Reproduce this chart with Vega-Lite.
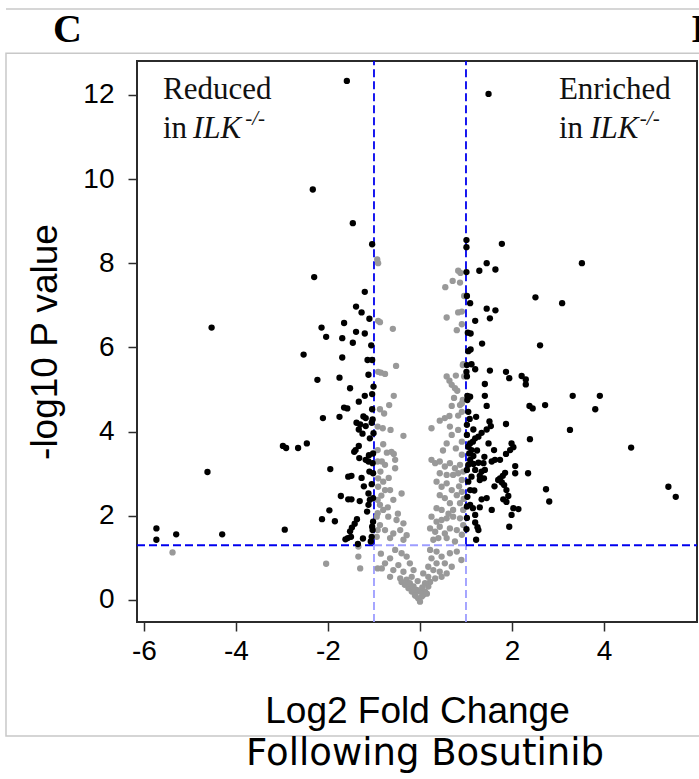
{
  "$schema": "https://vega.github.io/schema/vega-lite/v6.json",
  "width": 560,
  "height": 561,
  "autosize": {"type": "none"},
  "padding": {"left": 137, "top": 61, "right": 2, "bottom": 157},
  "background": "white",
  "title": {"text": "Following Bosutinib", "orient": "bottom", "anchor": "middle", "font": "DejaVu Sans", "fontSize": 37, "fontWeight": "normal", "color": "#000000", "offset": -1, "dx": 8},
  "datasets": {
    "panel": [{"x": -9.0, "x2": 7.0, "y": 12.99, "y2": -3.23}],
    "topline": [{"x": -9.0, "x2": 7.0, "y": 14.04}],
    "thresholds": [
      {"x": -1, "x2": -1, "y": 1.3, "y2": 12.803, "zone": "outer"},
      {"x": -1, "x2": -1, "y": -0.523, "y2": 1.3, "zone": "inner"},
      {"x": 1, "x2": 1, "y": 1.3, "y2": 12.803, "zone": "outer"},
      {"x": 1, "x2": 1, "y": -0.523, "y2": 1.3, "zone": "inner"},
      {"x": -6.152, "x2": -1, "y": 1.3, "y2": 1.3, "zone": "outer"},
      {"x": -1, "x2": 1, "y": 1.3, "y2": 1.3, "zone": "inner"},
      {"x": 1, "x2": 6.022, "y": 1.3, "y2": 1.3, "zone": "outer"}
    ],
    "normalText": [
      {"x": -5.587, "y": 11.9, "t": "Reduced"},
      {"x": -5.587, "y": 10.98, "t": "in"},
      {"x": 3.02, "y": 11.9, "t": "Enriched"},
      {"x": 3.02, "y": 10.98, "t": "in"}
    ],
    "italicText": [
      {"x": -4.935, "y": 10.98, "t": "ILK"},
      {"x": 3.70, "y": 10.98, "t": "ILK"}
    ],
    "supText": [
      {"x": -3.8, "y": 11.28, "t": "-/-"},
      {"x": 4.78, "y": 11.28, "t": "-/-"}
    ],
    "panelLabels": [
      {"x": -7.98, "y": 13.25, "t": "C"},
      {"x": 5.91, "y": 13.25, "t": "D"}
    ],
    "genes": [
      {"lfc": -0.93, "nlp": 8.09, "group": "ns"}, {"lfc": -0.91, "nlp": 8.0, "group": "ns"}, {"lfc": -0.91, "nlp": 6.63, "group": "ns"}, {"lfc": -0.87, "nlp": 6.6, "group": "ns"},
      {"lfc": -0.59, "nlp": 6.44, "group": "ns"}, {"lfc": -0.91, "nlp": 5.42, "group": "ns"}, {"lfc": -0.85, "nlp": 5.4, "group": "ns"}, {"lfc": -0.76, "nlp": 5.37, "group": "ns"},
      {"lfc": -0.52, "nlp": 5.56, "group": "ns"}, {"lfc": -0.57, "nlp": 4.85, "group": "ns"}, {"lfc": -0.87, "nlp": 4.53, "group": "ns"}, {"lfc": -0.78, "nlp": 4.43, "group": "ns"},
      {"lfc": -0.67, "nlp": 4.63, "group": "ns"}, {"lfc": -0.92, "nlp": 4.12, "group": "ns"}, {"lfc": -0.81, "nlp": 4.08, "group": "ns"}, {"lfc": -0.64, "nlp": 4.04, "group": "ns"},
      {"lfc": -0.36, "nlp": 3.9, "group": "ns"}, {"lfc": -0.92, "nlp": 3.56, "group": "ns"}, {"lfc": -0.72, "nlp": 3.5, "group": "ns"}, {"lfc": -0.62, "nlp": 3.52, "group": "ns"},
      {"lfc": -0.57, "nlp": 3.47, "group": "ns"}, {"lfc": -0.54, "nlp": 3.33, "group": "ns"}, {"lfc": -0.92, "nlp": 3.29, "group": "ns"}, {"lfc": -0.83, "nlp": 3.29, "group": "ns"},
      {"lfc": -0.76, "nlp": 3.21, "group": "ns"}, {"lfc": -0.54, "nlp": 3.13, "group": "ns"}, {"lfc": -0.91, "nlp": 2.89, "group": "ns"}, {"lfc": -0.8, "nlp": 2.81, "group": "ns"},
      {"lfc": -0.91, "nlp": 2.69, "group": "ns"}, {"lfc": -0.76, "nlp": 2.61, "group": "ns"}, {"lfc": -0.65, "nlp": 2.61, "group": "ns"}, {"lfc": -0.4, "nlp": 2.53, "group": "ns"},
      {"lfc": -0.58, "nlp": 2.38, "group": "ns"}, {"lfc": -0.92, "nlp": 2.38, "group": "ns"}, {"lfc": -0.87, "nlp": 2.26, "group": "ns"}, {"lfc": -0.8, "nlp": 2.14, "group": "ns"},
      {"lfc": -0.92, "nlp": 2.06, "group": "ns"}, {"lfc": -0.94, "nlp": 1.98, "group": "ns"}, {"lfc": -0.69, "nlp": 1.98, "group": "ns"}, {"lfc": -0.51, "nlp": 1.9, "group": "ns"},
      {"lfc": -0.36, "nlp": 1.82, "group": "ns"}, {"lfc": -0.87, "nlp": 1.78, "group": "ns"}, {"lfc": -0.76, "nlp": 1.66, "group": "ns"}, {"lfc": -0.92, "nlp": 1.66, "group": "ns"},
      {"lfc": -0.58, "nlp": 1.58, "group": "ns"}, {"lfc": -0.43, "nlp": 1.66, "group": "ns"}, {"lfc": -0.29, "nlp": 1.54, "group": "ns"}, {"lfc": -0.94, "nlp": 1.5, "group": "ns"},
      {"lfc": -0.65, "nlp": 1.47, "group": "ns"}, {"lfc": -0.36, "nlp": 1.43, "group": "ns"}, {"lfc": -0.7, "nlp": 2.2, "group": "ns"}, {"lfc": -0.48, "nlp": 2.05, "group": "ns"},
      {"lfc": -0.84, "nlp": 2.48, "group": "ns"}, {"lfc": -0.68, "nlp": 2.9, "group": "ns"}, {"lfc": -0.86, "nlp": 3.05, "group": "ns"}, {"lfc": -0.8, "nlp": 3.7, "group": "ns"},
      {"lfc": 0.83, "nlp": 7.82, "group": "ns"}, {"lfc": 0.88, "nlp": 7.77, "group": "ns"}, {"lfc": 0.71, "nlp": 7.58, "group": "ns"}, {"lfc": 0.87, "nlp": 7.54, "group": "ns"},
      {"lfc": 0.55, "nlp": 7.43, "group": "ns"}, {"lfc": 0.96, "nlp": 7.22, "group": "ns"}, {"lfc": 0.58, "nlp": 6.71, "group": "ns"}, {"lfc": 0.83, "nlp": 6.83, "group": "ns"},
      {"lfc": 0.91, "nlp": 6.55, "group": "ns"}, {"lfc": 0.8, "nlp": 6.41, "group": "ns"}, {"lfc": 0.91, "nlp": 6.85, "group": "ns"}, {"lfc": 0.93, "nlp": 5.58, "group": "ns"},
      {"lfc": 0.78, "nlp": 5.33, "group": "ns"}, {"lfc": 0.94, "nlp": 5.6, "group": "ns"}, {"lfc": 0.96, "nlp": 5.31, "group": "ns"}, {"lfc": 0.58, "nlp": 5.31, "group": "ns"},
      {"lfc": 0.64, "nlp": 5.21, "group": "ns"}, {"lfc": 0.69, "nlp": 5.11, "group": "ns"}, {"lfc": 0.76, "nlp": 5.03, "group": "ns"}, {"lfc": 0.81, "nlp": 4.97, "group": "ns"},
      {"lfc": 0.93, "nlp": 4.75, "group": "ns"}, {"lfc": 0.87, "nlp": 4.63, "group": "ns"}, {"lfc": 0.69, "nlp": 4.61, "group": "ns"}, {"lfc": 0.91, "nlp": 4.67, "group": "ns"},
      {"lfc": 0.91, "nlp": 4.47, "group": "ns"}, {"lfc": 0.64, "nlp": 4.37, "group": "ns"}, {"lfc": 0.54, "nlp": 4.32, "group": "ns"}, {"lfc": 0.83, "nlp": 4.38, "group": "ns"},
      {"lfc": 0.43, "nlp": 4.26, "group": "ns"}, {"lfc": 0.65, "nlp": 4.12, "group": "ns"}, {"lfc": 0.83, "nlp": 4.04, "group": "ns"}, {"lfc": 0.69, "nlp": 3.92, "group": "ns"},
      {"lfc": 0.91, "nlp": 3.76, "group": "ns"}, {"lfc": 0.58, "nlp": 3.72, "group": "ns"}, {"lfc": 0.25, "nlp": 4.08, "group": "ns"},
      {"lfc": 0.25, "nlp": 3.33, "group": "ns"}, {"lfc": 0.33, "nlp": 3.25, "group": "ns"}, {"lfc": 0.43, "nlp": 3.29, "group": "ns"}, {"lfc": 0.54, "nlp": 3.17, "group": "ns"},
      {"lfc": 0.65, "nlp": 3.25, "group": "ns"}, {"lfc": 0.76, "nlp": 3.13, "group": "ns"}, {"lfc": 0.87, "nlp": 3.21, "group": "ns"}, {"lfc": 0.43, "nlp": 3.01, "group": "ns"},
      {"lfc": 0.58, "nlp": 2.97, "group": "ns"}, {"lfc": 0.72, "nlp": 2.97, "group": "ns"}, {"lfc": 0.83, "nlp": 3.01, "group": "ns"}, {"lfc": 0.94, "nlp": 3.05, "group": "ns"},
      {"lfc": 0.36, "nlp": 2.81, "group": "ns"}, {"lfc": 0.47, "nlp": 2.69, "group": "ns"}, {"lfc": 0.58, "nlp": 2.77, "group": "ns"}, {"lfc": 0.69, "nlp": 2.61, "group": "ns"},
      {"lfc": 0.43, "nlp": 2.49, "group": "ns"}, {"lfc": 0.54, "nlp": 2.42, "group": "ns"}, {"lfc": 0.65, "nlp": 2.3, "group": "ns"}, {"lfc": 0.8, "nlp": 2.49, "group": "ns"},
      {"lfc": 0.91, "nlp": 2.57, "group": "ns"}, {"lfc": 0.87, "nlp": 2.3, "group": "ns"}, {"lfc": 0.36, "nlp": 2.18, "group": "ns"}, {"lfc": 0.47, "nlp": 2.14, "group": "ns"},
      {"lfc": 0.72, "nlp": 2.14, "group": "ns"}, {"lfc": 0.94, "nlp": 2.14, "group": "ns"}, {"lfc": 0.25, "nlp": 1.98, "group": "ns"}, {"lfc": 0.36, "nlp": 1.86, "group": "ns"},
      {"lfc": 0.47, "nlp": 1.9, "group": "ns"}, {"lfc": 0.58, "nlp": 1.94, "group": "ns"}, {"lfc": 0.72, "nlp": 1.98, "group": "ns"}, {"lfc": 0.87, "nlp": 1.94, "group": "ns"},
      {"lfc": 0.22, "nlp": 1.7, "group": "ns"}, {"lfc": 0.33, "nlp": 1.62, "group": "ns"}, {"lfc": 0.43, "nlp": 1.74, "group": "ns"}, {"lfc": 0.54, "nlp": 1.58, "group": "ns"},
      {"lfc": 0.65, "nlp": 1.7, "group": "ns"}, {"lfc": 0.8, "nlp": 1.66, "group": "ns"}, {"lfc": 0.94, "nlp": 1.78, "group": "ns"}, {"lfc": 0.29, "nlp": 1.43, "group": "ns"},
      {"lfc": 0.4, "nlp": 1.47, "group": "ns"}, {"lfc": 0.58, "nlp": 1.47, "group": "ns"}, {"lfc": 0.76, "nlp": 1.39, "group": "ns"}, {"lfc": 0.91, "nlp": 3.45, "group": "ns"},
      {"lfc": 0.91, "nlp": 2.85, "group": "ns"}, {"lfc": 0.91, "nlp": 1.55, "group": "ns"}, {"lfc": 0.78, "nlp": 3.6, "group": "ns"}, {"lfc": 0.5, "nlp": 3.55, "group": "ns"},
      {"lfc": 0.85, "nlp": 2.7, "group": "ns"}, {"lfc": 0.62, "nlp": 2.05, "group": "ns"}, {"lfc": 0.95, "nlp": 2.4, "group": "ns"}, {"lfc": 0.74, "nlp": 4.8, "group": "ns"},
      {"lfc": -0.54, "nlp": 1.19, "group": "ns"}, {"lfc": -0.4, "nlp": 1.11, "group": "ns"}, {"lfc": -0.29, "nlp": 1.03, "group": "ns"}, {"lfc": -0.65, "nlp": 0.99, "group": "ns"},
      {"lfc": -0.76, "nlp": 0.87, "group": "ns"}, {"lfc": -0.47, "nlp": 0.83, "group": "ns"}, {"lfc": -0.22, "nlp": 0.87, "group": "ns"}, {"lfc": -0.83, "nlp": 0.75, "group": "ns"},
      {"lfc": -0.58, "nlp": 0.71, "group": "ns"}, {"lfc": -0.36, "nlp": 0.67, "group": "ns"}, {"lfc": -0.14, "nlp": 0.71, "group": "ns"}, {"lfc": -0.65, "nlp": 0.55, "group": "ns"},
      {"lfc": -0.43, "nlp": 0.51, "group": "ns"}, {"lfc": -0.29, "nlp": 0.48, "group": "ns"}, {"lfc": -0.18, "nlp": 0.55, "group": "ns"}, {"lfc": 0.22, "nlp": 1.19, "group": "ns"},
      {"lfc": 0.36, "nlp": 1.15, "group": "ns"}, {"lfc": 0.47, "nlp": 1.03, "group": "ns"}, {"lfc": 0.65, "nlp": 1.11, "group": "ns"}, {"lfc": 0.8, "nlp": 1.15, "group": "ns"},
      {"lfc": 0.25, "nlp": 0.99, "group": "ns"}, {"lfc": 0.36, "nlp": 0.87, "group": "ns"}, {"lfc": 0.54, "nlp": 0.87, "group": "ns"}, {"lfc": 0.69, "nlp": 0.79, "group": "ns"},
      {"lfc": 0.18, "nlp": 0.79, "group": "ns"}, {"lfc": 0.29, "nlp": 0.71, "group": "ns"}, {"lfc": 0.43, "nlp": 0.67, "group": "ns"}, {"lfc": 0.58, "nlp": 0.63, "group": "ns"},
      {"lfc": 0.07, "nlp": 0.63, "group": "ns"}, {"lfc": 0.18, "nlp": 0.55, "group": "ns"}, {"lfc": 0.33, "nlp": 0.51, "group": "ns"}, {"lfc": 0.47, "nlp": 0.55, "group": "ns"},
      {"lfc": -0.4, "nlp": 0.43, "group": "ns"}, {"lfc": -0.33, "nlp": 0.36, "group": "ns"}, {"lfc": -0.25, "nlp": 0.28, "group": "ns"}, {"lfc": -0.18, "nlp": 0.2, "group": "ns"},
      {"lfc": -0.11, "nlp": 0.12, "group": "ns"}, {"lfc": -0.04, "nlp": 0.04, "group": "ns"}, {"lfc": 0.0, "nlp": -0.04, "group": "ns"}, {"lfc": 0.04, "nlp": 0.08, "group": "ns"},
      {"lfc": 0.11, "nlp": 0.2, "group": "ns"}, {"lfc": 0.18, "nlp": 0.32, "group": "ns"}, {"lfc": 0.22, "nlp": 0.43, "group": "ns"}, {"lfc": 0.11, "nlp": 0.4, "group": "ns"},
      {"lfc": -0.07, "nlp": 0.24, "group": "ns"}, {"lfc": -0.22, "nlp": 0.4, "group": "ns"}, {"lfc": -0.14, "nlp": 0.32, "group": "ns"}, {"lfc": 0.07, "nlp": 0.12, "group": "ns"},
      {"lfc": 0.0, "nlp": 0.2, "group": "ns"}, {"lfc": -0.92, "nlp": 0.75, "group": "ns"}, {"lfc": -0.05, "nlp": 0.45, "group": "ns"}, {"lfc": 0.05, "nlp": 0.3, "group": "ns"},
      {"lfc": -0.1, "nlp": 0.1, "group": "ns"}, {"lfc": 0.15, "nlp": 0.15, "group": "ns"}, {"lfc": -0.85, "nlp": 1.1, "group": "ns"}, {"lfc": 0.9, "nlp": 0.95, "group": "ns"},
      {"lfc": -5.38, "nlp": 1.13, "group": "ns"}, {"lfc": -2.04, "nlp": 0.86, "group": "ns"}, {"lfc": -1.34, "nlp": 1.27, "group": "ns"}, {"lfc": -1.34, "nlp": 1.03, "group": "ns"},
      {"lfc": -1.3, "nlp": 0.75, "group": "ns"},
      {"lfc": -1.59, "nlp": 12.33, "group": "sig"}, {"lfc": -2.33, "nlp": 9.75, "group": "sig"}, {"lfc": -1.46, "nlp": 8.95, "group": "sig"}, {"lfc": -1.04, "nlp": 8.45, "group": "sig"},
      {"lfc": -2.3, "nlp": 7.67, "group": "sig"}, {"lfc": -1.2, "nlp": 7.32, "group": "sig"}, {"lfc": -1.39, "nlp": 6.97, "group": "sig"}, {"lfc": -1.27, "nlp": 6.83, "group": "sig"},
      {"lfc": -1.1, "nlp": 6.68, "group": "sig"}, {"lfc": -1.65, "nlp": 6.58, "group": "sig"}, {"lfc": -2.14, "nlp": 6.47, "group": "sig"}, {"lfc": -1.39, "nlp": 6.37, "group": "sig"},
      {"lfc": -1.2, "nlp": 6.33, "group": "sig"}, {"lfc": -2.04, "nlp": 6.25, "group": "sig"}, {"lfc": -1.69, "nlp": 6.22, "group": "sig"}, {"lfc": -1.46, "nlp": 6.11, "group": "sig"},
      {"lfc": -2.53, "nlp": 5.83, "group": "sig"}, {"lfc": -1.69, "nlp": 5.76, "group": "sig"}, {"lfc": -1.14, "nlp": 5.7, "group": "sig"}, {"lfc": -1.04, "nlp": 5.7, "group": "sig"},
      {"lfc": -2.23, "nlp": 5.23, "group": "sig"}, {"lfc": -1.75, "nlp": 5.28, "group": "sig"}, {"lfc": -1.52, "nlp": 5.03, "group": "sig"}, {"lfc": -1.01, "nlp": 5.07, "group": "sig"},
      {"lfc": -1.2, "nlp": 4.85, "group": "sig"}, {"lfc": -1.04, "nlp": 4.89, "group": "sig"}, {"lfc": -1.33, "nlp": 4.71, "group": "sig"}, {"lfc": -1.65, "nlp": 4.57, "group": "sig"},
      {"lfc": -1.58, "nlp": 4.55, "group": "sig"}, {"lfc": -1.04, "nlp": 4.53, "group": "sig"}, {"lfc": -2.11, "nlp": 4.32, "group": "sig"}, {"lfc": -1.75, "nlp": 4.35, "group": "sig"},
      {"lfc": -1.23, "nlp": 4.36, "group": "sig"}, {"lfc": -1.18, "nlp": 4.32, "group": "sig"}, {"lfc": -1.03, "nlp": 4.29, "group": "sig"}, {"lfc": -1.38, "nlp": 4.21, "group": "sig"},
      {"lfc": -1.3, "nlp": 4.17, "group": "sig"}, {"lfc": -1.05, "nlp": 4.21, "group": "sig"}, {"lfc": -1.18, "nlp": 4.13, "group": "sig"}, {"lfc": -1.33, "nlp": 4.05, "group": "sig"},
      {"lfc": -1.01, "nlp": 3.96, "group": "sig"}, {"lfc": -1.09, "nlp": 3.84, "group": "sig"}, {"lfc": -2.98, "nlp": 3.66, "group": "sig"}, {"lfc": -2.91, "nlp": 3.61, "group": "sig"},
      {"lfc": -2.65, "nlp": 3.61, "group": "sig"}, {"lfc": -2.46, "nlp": 3.72, "group": "sig"}, {"lfc": -1.33, "nlp": 3.66, "group": "sig"}, {"lfc": -1.4, "nlp": 3.56, "group": "sig"},
      {"lfc": -1.43, "nlp": 3.52, "group": "sig"}, {"lfc": -1.11, "nlp": 3.44, "group": "sig"}, {"lfc": -1.32, "nlp": 3.37, "group": "sig"}, {"lfc": -1.18, "nlp": 3.33, "group": "sig"},
      {"lfc": -1.12, "nlp": 3.29, "group": "sig"}, {"lfc": -4.62, "nlp": 3.04, "group": "sig"}, {"lfc": -1.95, "nlp": 3.11, "group": "sig"}, {"lfc": -1.56, "nlp": 2.93, "group": "sig"},
      {"lfc": -1.49, "nlp": 2.95, "group": "sig"}, {"lfc": -1.27, "nlp": 2.9, "group": "sig"}, {"lfc": -1.1, "nlp": 3.05, "group": "sig"}, {"lfc": -1.05, "nlp": 2.75, "group": "sig"},
      {"lfc": -1.12, "nlp": 2.53, "group": "sig"}, {"lfc": -1.09, "nlp": 2.38, "group": "sig"}, {"lfc": -1.12, "nlp": 2.26, "group": "sig"}, {"lfc": -1.72, "nlp": 2.47, "group": "sig"},
      {"lfc": -1.56, "nlp": 2.39, "group": "sig"}, {"lfc": -1.49, "nlp": 2.39, "group": "sig"}, {"lfc": -1.31, "nlp": 2.35, "group": "sig"}, {"lfc": -1.97, "nlp": 2.13, "group": "sig"},
      {"lfc": -2.13, "nlp": 1.92, "group": "sig"}, {"lfc": -1.85, "nlp": 1.87, "group": "sig"}, {"lfc": -1.37, "nlp": 1.92, "group": "sig"}, {"lfc": -1.42, "nlp": 1.81, "group": "sig"},
      {"lfc": -1.48, "nlp": 1.72, "group": "sig"}, {"lfc": -1.52, "nlp": 1.63, "group": "sig"}, {"lfc": -1.57, "nlp": 1.47, "group": "sig"}, {"lfc": -1.5, "nlp": 1.5, "group": "sig"},
      {"lfc": -1.62, "nlp": 1.44, "group": "sig"}, {"lfc": -1.24, "nlp": 1.46, "group": "sig"}, {"lfc": -1.05, "nlp": 1.5, "group": "sig"}, {"lfc": -1.07, "nlp": 1.39, "group": "sig"},
      {"lfc": -1.35, "nlp": 1.33, "group": "sig"}, {"lfc": -5.73, "nlp": 1.7, "group": "sig"}, {"lfc": -5.73, "nlp": 1.43, "group": "sig"}, {"lfc": -5.3, "nlp": 1.56, "group": "sig"},
      {"lfc": -4.3, "nlp": 1.56, "group": "sig"}, {"lfc": -2.94, "nlp": 1.67, "group": "sig"}, {"lfc": -1.02, "nlp": 1.86, "group": "sig"}, {"lfc": -1.03, "nlp": 1.66, "group": "sig"},
      {"lfc": -1.02, "nlp": 3.48, "group": "sig"}, {"lfc": -1.03, "nlp": 3.25, "group": "sig"}, {"lfc": -1.02, "nlp": 3.01, "group": "sig"}, {"lfc": -1.02, "nlp": 2.42, "group": "sig"},
      {"lfc": -1.04, "nlp": 1.74, "group": "sig"}, {"lfc": -4.53, "nlp": 6.47, "group": "sig"}, {"lfc": -1.25, "nlp": 3.95, "group": "sig"}, {"lfc": -1.15, "nlp": 2.1, "group": "sig"},
      {"lfc": -1.22, "nlp": 2.7, "group": "sig"}, {"lfc": -1.06, "nlp": 6.05, "group": "sig"}, {"lfc": -1.12, "nlp": 5.35, "group": "sig"},
      {"lfc": 1.49, "nlp": 12.02, "group": "sig"}, {"lfc": 1.01, "nlp": 8.55, "group": "sig"}, {"lfc": 1.01, "nlp": 8.38, "group": "sig"}, {"lfc": 1.78, "nlp": 8.46, "group": "sig"},
      {"lfc": 1.45, "nlp": 8.0, "group": "sig"}, {"lfc": 3.52, "nlp": 8.0, "group": "sig"}, {"lfc": 1.29, "nlp": 7.82, "group": "sig"}, {"lfc": 1.64, "nlp": 7.85, "group": "sig"},
      {"lfc": 1.01, "nlp": 7.79, "group": "sig"}, {"lfc": 1.09, "nlp": 7.05, "group": "sig"}, {"lfc": 2.51, "nlp": 7.19, "group": "sig"}, {"lfc": 3.09, "nlp": 7.05, "group": "sig"},
      {"lfc": 1.45, "nlp": 6.92, "group": "sig"}, {"lfc": 1.64, "nlp": 6.88, "group": "sig"}, {"lfc": 1.02, "nlp": 7.22, "group": "sig"}, {"lfc": 1.04, "nlp": 6.35, "group": "sig"},
      {"lfc": 1.05, "nlp": 5.91, "group": "sig"}, {"lfc": 1.02, "nlp": 5.58, "group": "sig"}, {"lfc": 1.02, "nlp": 5.31, "group": "sig"}, {"lfc": 1.2, "nlp": 6.63, "group": "sig"},
      {"lfc": 1.52, "nlp": 6.69, "group": "sig"}, {"lfc": 1.1, "nlp": 6.33, "group": "sig"}, {"lfc": 1.35, "nlp": 6.09, "group": "sig"}, {"lfc": 2.61, "nlp": 6.05, "group": "sig"},
      {"lfc": 1.1, "nlp": 5.95, "group": "sig"}, {"lfc": 1.12, "nlp": 5.6, "group": "sig"}, {"lfc": 1.2, "nlp": 5.48, "group": "sig"}, {"lfc": 1.01, "nlp": 5.42, "group": "sig"},
      {"lfc": 1.52, "nlp": 5.45, "group": "sig"}, {"lfc": 1.87, "nlp": 5.42, "group": "sig"}, {"lfc": 1.94, "nlp": 5.27, "group": "sig"}, {"lfc": 2.21, "nlp": 5.32, "group": "sig"},
      {"lfc": 2.3, "nlp": 5.24, "group": "sig"}, {"lfc": 2.3, "nlp": 5.12, "group": "sig"}, {"lfc": 1.41, "nlp": 5.13, "group": "sig"}, {"lfc": 1.03, "nlp": 4.85, "group": "sig"},
      {"lfc": 1.09, "nlp": 4.83, "group": "sig"}, {"lfc": 1.41, "nlp": 4.85, "group": "sig"}, {"lfc": 1.03, "nlp": 4.75, "group": "sig"}, {"lfc": 1.45, "nlp": 4.61, "group": "sig"},
      {"lfc": 2.38, "nlp": 4.61, "group": "sig"}, {"lfc": 2.45, "nlp": 4.55, "group": "sig"}, {"lfc": 2.72, "nlp": 4.63, "group": "sig"}, {"lfc": 1.05, "nlp": 4.47, "group": "sig"},
      {"lfc": 1.22, "nlp": 4.35, "group": "sig"}, {"lfc": 1.51, "nlp": 4.24, "group": "sig"}, {"lfc": 1.54, "nlp": 4.13, "group": "sig"}, {"lfc": 1.45, "nlp": 4.05, "group": "sig"},
      {"lfc": 1.87, "nlp": 4.18, "group": "sig"}, {"lfc": 1.16, "nlp": 4.05, "group": "sig"}, {"lfc": 1.34, "nlp": 3.97, "group": "sig"}, {"lfc": 1.27, "nlp": 3.88, "group": "sig"},
      {"lfc": 1.2, "nlp": 3.84, "group": "sig"}, {"lfc": 1.15, "nlp": 3.76, "group": "sig"}, {"lfc": 1.09, "nlp": 3.72, "group": "sig"}, {"lfc": 1.05, "nlp": 3.64, "group": "sig"},
      {"lfc": 1.12, "nlp": 3.56, "group": "sig"}, {"lfc": 1.07, "nlp": 3.48, "group": "sig"}, {"lfc": 2.39, "nlp": 3.82, "group": "sig"}, {"lfc": 1.99, "nlp": 3.72, "group": "sig"},
      {"lfc": 2.03, "nlp": 3.63, "group": "sig"}, {"lfc": 1.96, "nlp": 3.56, "group": "sig"}, {"lfc": 1.49, "nlp": 3.72, "group": "sig"}, {"lfc": 1.61, "nlp": 3.56, "group": "sig"},
      {"lfc": 1.87, "nlp": 3.47, "group": "sig"}, {"lfc": 1.16, "nlp": 3.42, "group": "sig"}, {"lfc": 1.09, "nlp": 3.33, "group": "sig"}, {"lfc": 1.05, "nlp": 3.21, "group": "sig"},
      {"lfc": 1.16, "nlp": 3.23, "group": "sig"}, {"lfc": 1.27, "nlp": 3.26, "group": "sig"}, {"lfc": 1.38, "nlp": 3.25, "group": "sig"}, {"lfc": 1.56, "nlp": 3.29, "group": "sig"},
      {"lfc": 1.63, "nlp": 3.33, "group": "sig"}, {"lfc": 1.74, "nlp": 3.33, "group": "sig"}, {"lfc": 2.07, "nlp": 3.18, "group": "sig"}, {"lfc": 1.2, "nlp": 3.09, "group": "sig"},
      {"lfc": 1.34, "nlp": 3.05, "group": "sig"}, {"lfc": 1.41, "nlp": 3.09, "group": "sig"}, {"lfc": 1.12, "nlp": 2.93, "group": "sig"}, {"lfc": 1.3, "nlp": 2.95, "group": "sig"},
      {"lfc": 1.39, "nlp": 2.89, "group": "sig"}, {"lfc": 1.3, "nlp": 2.85, "group": "sig"}, {"lfc": 1.85, "nlp": 3.02, "group": "sig"}, {"lfc": 1.8, "nlp": 2.95, "group": "sig"},
      {"lfc": 1.74, "nlp": 2.89, "group": "sig"}, {"lfc": 1.7, "nlp": 2.85, "group": "sig"}, {"lfc": 1.78, "nlp": 2.79, "group": "sig"}, {"lfc": 1.83, "nlp": 2.73, "group": "sig"},
      {"lfc": 2.07, "nlp": 3.01, "group": "sig"}, {"lfc": 2.35, "nlp": 3.01, "group": "sig"}, {"lfc": 1.05, "nlp": 2.81, "group": "sig"}, {"lfc": 1.09, "nlp": 2.61, "group": "sig"},
      {"lfc": 1.88, "nlp": 2.61, "group": "sig"}, {"lfc": 1.92, "nlp": 2.47, "group": "sig"}, {"lfc": 2.74, "nlp": 2.63, "group": "sig"}, {"lfc": 2.81, "nlp": 2.34, "group": "sig"},
      {"lfc": 1.34, "nlp": 2.39, "group": "sig"}, {"lfc": 1.45, "nlp": 2.42, "group": "sig"}, {"lfc": 1.81, "nlp": 2.39, "group": "sig"}, {"lfc": 1.88, "nlp": 2.33, "group": "sig"},
      {"lfc": 1.09, "nlp": 2.26, "group": "sig"}, {"lfc": 1.15, "nlp": 2.18, "group": "sig"}, {"lfc": 1.56, "nlp": 2.14, "group": "sig"}, {"lfc": 2.03, "nlp": 2.18, "group": "sig"},
      {"lfc": 2.14, "nlp": 2.16, "group": "sig"}, {"lfc": 1.2, "nlp": 2.02, "group": "sig"}, {"lfc": 1.99, "nlp": 2.02, "group": "sig"}, {"lfc": 1.2, "nlp": 1.84, "group": "sig"},
      {"lfc": 1.25, "nlp": 1.73, "group": "sig"}, {"lfc": 1.27, "nlp": 1.66, "group": "sig"}, {"lfc": 1.94, "nlp": 1.74, "group": "sig"}, {"lfc": 1.01, "nlp": 1.68, "group": "sig"},
      {"lfc": 1.22, "nlp": 1.43, "group": "sig"}, {"lfc": 3.32, "nlp": 4.85, "group": "sig"}, {"lfc": 3.91, "nlp": 4.85, "group": "sig"}, {"lfc": 3.81, "nlp": 4.53, "group": "sig"},
      {"lfc": 3.26, "nlp": 4.04, "group": "sig"}, {"lfc": 4.59, "nlp": 3.62, "group": "sig"}, {"lfc": 5.4, "nlp": 2.69, "group": "sig"}, {"lfc": 5.56, "nlp": 2.45, "group": "sig"},
      {"lfc": 1.02, "nlp": 4.16, "group": "sig"}, {"lfc": 1.02, "nlp": 3.92, "group": "sig"}, {"lfc": 1.02, "nlp": 3.09, "group": "sig"}, {"lfc": 1.03, "nlp": 2.45, "group": "sig"},
      {"lfc": 1.02, "nlp": 2.22, "group": "sig"}, {"lfc": 1.02, "nlp": 1.95, "group": "sig"}, {"lfc": 1.24, "nlp": 3.55, "group": "sig"}, {"lfc": 1.18, "nlp": 2.6, "group": "sig"},
      {"lfc": 1.4, "nlp": 3.4, "group": "sig"}, {"lfc": 1.08, "nlp": 4.3, "group": "sig"}, {"lfc": 1.3, "nlp": 2.2, "group": "sig"}, {"lfc": 1.62, "nlp": 2.7, "group": "sig"}
    ]
  },
  "layer": [
    {
      "data": {"name": "panel"},
      "mark": {"type": "rect", "fill": null, "stroke": "#c8c8c8", "strokeWidth": 1.5},
      "encoding": {
        "x": {"field": "x", "type": "quantitative", "scale": {"domain": [-6.152, 6.022], "nice": false, "zero": false}},
        "x2": {"field": "x2"},
        "y": {"field": "y", "type": "quantitative", "scale": {"domain": [-0.523, 12.803], "nice": false, "zero": false}},
        "y2": {"field": "y2"}
      }
    },
    {
      "data": {"name": "topline"},
      "mark": {"type": "rule", "stroke": "#c8c8c8", "strokeWidth": 1.5},
      "encoding": {
        "x": {"field": "x", "type": "quantitative"},
        "x2": {"field": "x2"},
        "y": {"field": "y", "type": "quantitative"}
      }
    },
    {
      "data": {"name": "thresholds"},
      "mark": {"type": "rule", "strokeWidth": 1.8, "strokeDash": [8, 4]},
      "encoding": {
        "x": {"field": "x", "type": "quantitative"},
        "x2": {"field": "x2"},
        "y": {"field": "y", "type": "quantitative"},
        "y2": {"field": "y2"},
        "color": {"field": "zone", "type": "nominal", "scale": {"domain": ["outer", "inner"], "range": ["#0000ee", "#9d9dff"]}, "legend": null}
      }
    },
    {
      "data": {"name": "genes"},
      "mark": {"type": "point", "shape": "circle", "filled": true, "size": 40, "opacity": 1},
      "encoding": {
        "x": {"field": "lfc", "type": "quantitative", "title": "Log2 Fold Change", "axis": {"values": [-6, -4, -2, 0, 2, 4], "labelPadding": 6, "titlePadding": 28, "labelExpr": "replace(datum.label, '\u2212', '-')"}},
        "y": {"field": "nlp", "type": "quantitative", "title": "-log10 P value", "axis": {"values": [0, 2, 4, 6, 8, 10, 12], "labelPadding": 14, "titlePadding": 18}},
        "fill": {"field": "group", "type": "nominal", "scale": {"domain": ["sig", "ns"], "range": ["#000000", "#999999"]}, "legend": null}
      }
    },
    {
      "data": {"name": "normalText"},
      "mark": {"type": "text", "align": "left", "baseline": "alphabetic", "font": "Liberation Serif", "fontSize": 31, "color": "#111111"},
      "encoding": {
        "x": {"field": "x", "type": "quantitative"},
        "y": {"field": "y", "type": "quantitative"},
        "text": {"field": "t"}
      }
    },
    {
      "data": {"name": "italicText"},
      "mark": {"type": "text", "align": "left", "baseline": "alphabetic", "font": "Liberation Serif", "fontStyle": "italic", "fontSize": 31, "color": "#111111"},
      "encoding": {
        "x": {"field": "x", "type": "quantitative"},
        "y": {"field": "y", "type": "quantitative"},
        "text": {"field": "t"}
      }
    },
    {
      "data": {"name": "supText"},
      "mark": {"type": "text", "align": "left", "baseline": "alphabetic", "font": "Liberation Serif", "fontStyle": "italic", "fontSize": 21, "color": "#111111"},
      "encoding": {
        "x": {"field": "x", "type": "quantitative"},
        "y": {"field": "y", "type": "quantitative"},
        "text": {"field": "t"}
      }
    },
    {
      "data": {"name": "panelLabels"},
      "mark": {"type": "text", "align": "left", "baseline": "alphabetic", "font": "Liberation Serif", "fontWeight": "bold", "fontSize": 40, "color": "#000000"},
      "encoding": {
        "x": {"field": "x", "type": "quantitative"},
        "y": {"field": "y", "type": "quantitative"},
        "text": {"field": "t"}
      }
    }
  ],
  "config": {
    "view": {"stroke": "#2b2b2b", "strokeWidth": 2},
    "axis": {
      "domain": false,
      "grid": false,
      "tickColor": "#2b2b2b",
      "tickWidth": 1.5,
      "tickSize": 9,
      "labelFont": "Liberation Sans",
      "labelFontSize": 28,
      "labelColor": "#000000",
      "titleFont": "Liberation Sans",
      "titleFontSize": 37,
      "titleFontWeight": "normal",
      "titleColor": "#000000"
    }
  }
}
